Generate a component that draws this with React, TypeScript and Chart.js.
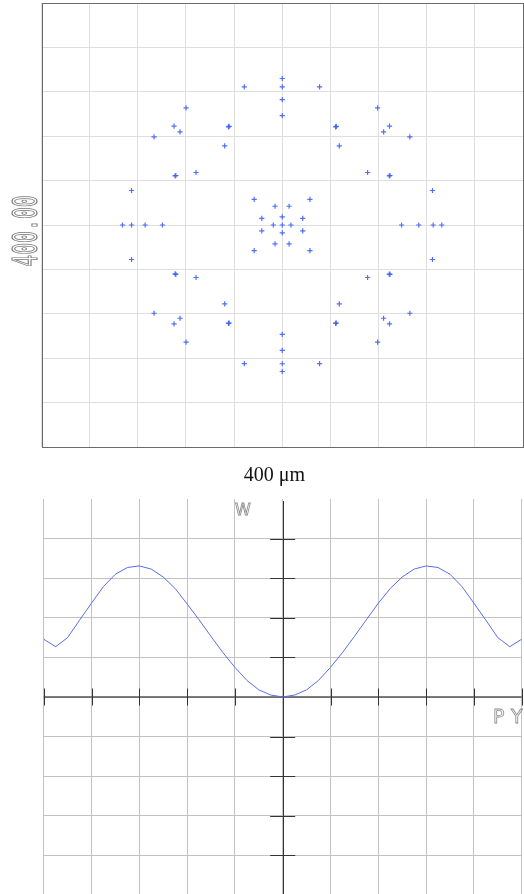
import React, { useEffect, useRef } from "react";
import { Chart, registerables } from "chart.js";

Chart.register(...registerables);

// ---------- Spot diagram data (μm) ----------
const spotX: number[] = [
  // central cluster
  0, -7.4, 7.2, 0, 0, -17, 17, -17, 17, -6, 5.7, -6, 5.7, -23.3, 23, -23.3, 23,
  // axis points (vertical)
  0, 0, 0, 0, 0, 0, 0, 0,
  // axis points (horizontal)
  -132.7, -125.2, -113.9, -99.5, 99.1, 113.4, 125.4, 132.5,
  // outer ring, upper half
  -31.5, 31, -79.9, 79.2, -89.9, 89.1, -84.9, 84.2, -44.7, 44.3, -106.5, 106, -47.8, 47.4, -89, 88.9, -71.6, 70.9, -125.2, 124.8,
  // outer ring, lower half
  -31.5, 31, -79.9, 79.2, -89.9, 89.1, -84.9, 84.2, -44.7, 44.3, -106.5, 106, -47.8, 47.4, -89, 88.9, -71.6, 70.9, -125.2, 124.8,
  // overlapping (bold) spots
  -44.1, 44.9, -88.4, 89.5, -88.4, 89.5, -44.1, 44.9,
];
const spotY: number[] = [
  0, 0, 0, 7.3, -7.1, 5.9, 5.9, -5.3, -5.3, 16.9, 16.9, -17, -17, 23, 23, -23, -23,
  132, 124.4, 113, 98.6, -98.6, -113, -125, -132,
  0, 0, 0, 0, 0, 0, 0, 0,
  124.4, 124.4, 105.5, 105.5, 89, 89, 83.9, 83.9, 88.4, 88.4, 79.4, 79.4, 71.3, 71.3, 44.2, 44.2, 47.3, 47.3, 31.1, 31.1,
  -124.8, -124.8, -105.6, -105.6, -89.1, -89.1, -84, -84, -88.7, -88.7, -79.5, -79.5, -71.1, -71.1, -44.1, -44.3, -47.3, -47.3, -31.1, -31.1,
  88.8, 88.8, 44.6, 44.6, -44.5, -44.5, -88.3, -88.3,
];
const spotMin = -200;
const spotMax = 200;
const spotStep = 40;
const spotYLabel = "400.00";
const spotXLabel = "400 \u03bcm";

// ---------- OPD fan data ----------
const pupilY: number[] = [
  -1, -0.95, -0.9, -0.85, -0.8, -0.75, -0.7, -0.65, -0.6, -0.55, -0.5, -0.45, -0.4, -0.35, -0.3, -0.25, -0.2, -0.15, -0.1, -0.05,
  0, 0.05, 0.1, 0.15, 0.2, 0.25, 0.3, 0.35, 0.4, 0.45, 0.5, 0.55, 0.6, 0.65, 0.7, 0.75, 0.8, 0.85, 0.9, 0.95, 1,
];
const waveW: number[] = [
  1.46, 1.27, 1.5, 1.94, 2.37, 2.79, 3.1, 3.27, 3.31, 3.23, 3.03, 2.74, 2.35, 1.95, 1.53, 1.12, 0.75, 0.42, 0.18, 0.05,
  0, 0.05, 0.18, 0.42, 0.75, 1.12, 1.53, 1.95, 2.37, 2.74, 3.03, 3.23, 3.31, 3.27, 3.1, 2.79, 2.37, 1.94, 1.5, 1.27, 1.46,
];
const pupilMin = -1;
const pupilMax = 1;
const pupilStep = 0.2;
const waveMin = -5;
const waveMax = 5;
const waveStep = 1;
const waveYLabel = "W";
const waveXLabel = "PY";

function SpotChart() {
  const ref = useRef<HTMLCanvasElement>(null);
  useEffect(() => {
    if (!ref.current) return;
    const labels = {
      id: "spotLabels",
      afterDraw(chart: any) {
        const { ctx, chartArea: a } = chart;
        ctx.save();
        ctx.strokeStyle = "#6a6a6a";
        ctx.lineWidth = 1;
        ctx.strokeRect(Math.round(a.left) + 0.5, Math.round(a.top) + 0.5, Math.round(a.right - a.left) - 1, Math.round(a.bottom - a.top));
        ctx.restore();

        ctx.save();
        ctx.translate(36.5, 231);
        ctx.rotate(-Math.PI / 2);
        ctx.scale(0.6, 1);
        ctx.font = '33px "DejaVu Sans Mono"';
        ctx.textAlign = "center";
        ctx.textBaseline = "alphabetic";
        ctx.strokeStyle = "#777";
        ctx.lineWidth = 1.1;
        ctx.strokeText(spotYLabel, 0, 0);
        ctx.restore();

        ctx.save();
        ctx.font = '20px "Liberation Serif"';
        ctx.fillStyle = "#111";
        ctx.textAlign = "center";
        ctx.textBaseline = "alphabetic";
        ctx.fillText(spotXLabel, 274.5, 481);
        ctx.restore();
      },
    };
    const chart = new Chart(ref.current, {
      type: "scatter",
      data: {
        datasets: [
          {
            data: spotX.map((x, i) => ({ x, y: spotY[i] })),
            pointStyle: "cross",
            pointRadius: 2.6,
            pointHoverRadius: 2.6,
            borderWidth: 1.2,
            borderColor: "rgba(60,95,255,0.9)",
            backgroundColor: "rgba(60,95,255,0.9)",
          },
        ],
      },
      options: {
        animation: false,
        responsive: false,
        devicePixelRatio: 1,
        events: [],
        layout: { autoPadding: false, padding: { left: 41.5, right: 1, top: 3, bottom: 43 } },
        plugins: { legend: { display: false }, tooltip: { enabled: false } },
        scales: {
          x: {
            type: "linear",
            min: spotMin,
            max: spotMax,
            ticks: { display: false, stepSize: spotStep },
            grid: { color: "#dedede", lineWidth: 1, drawTicks: false },
            border: { display: false },
          },
          y: {
            type: "linear",
            min: spotMin,
            max: spotMax,
            ticks: { display: false, stepSize: spotStep },
            grid: { color: "#dedede", lineWidth: 1, drawTicks: false },
            border: { display: false },
          },
        },
      },
      plugins: [labels],
    });
    return () => chart.destroy();
  }, []);
  return <canvas ref={ref} width={524} height={490} style={{ position: "absolute", left: 0, top: 0, width: 524, height: 490 }} />;
}

function WaveChart() {
  const ref = useRef<HTMLCanvasElement>(null);
  useEffect(() => {
    if (!ref.current) return;
    const axes = {
      id: "waveAxes",
      beforeDatasetsDraw(chart: any) {
        const { ctx, chartArea: a, scales } = chart;
        const xs = scales.x;
        const ys = scales.y;
        const x0 = xs.getPixelForValue(0);
        const y0 = ys.getPixelForValue(0);
        ctx.save();
        // horizontal axis
        ctx.strokeStyle = "#555";
        ctx.lineWidth = 1.5;
        ctx.beginPath();
        ctx.moveTo(a.left, y0);
        ctx.lineTo(a.right, y0);
        ctx.stroke();
        ctx.lineWidth = 1;
        ctx.strokeStyle = "#333";
        for (let v = pupilMin; v <= pupilMax + 1e-9; v += pupilStep) {
          const px = Math.round(xs.getPixelForValue(v)) + 0.5;
          ctx.beginPath();
          ctx.moveTo(px, y0 - 8.5);
          ctx.lineTo(px, y0 + 8.5);
          ctx.stroke();
        }
        // vertical axis
        const px0 = Math.round(x0) + 0.5;
        ctx.beginPath();
        ctx.moveTo(px0, a.top + 2);
        ctx.lineTo(px0, a.bottom);
        ctx.stroke();
        for (let v = waveMin + waveStep; v < waveMax - 1e-9; v += waveStep) {
          if (Math.abs(v) < 1e-9) continue;
          const py = Math.round(ys.getPixelForValue(v)) + 0.5;
          ctx.beginPath();
          ctx.moveTo(x0 - 12.5, py);
          ctx.lineTo(x0 + 12.5, py);
          ctx.stroke();
        }
        ctx.restore();
      },
      afterDraw(chart: any) {
        const { ctx } = chart;
        ctx.save();
        ctx.strokeStyle = "#888";
        ctx.lineWidth = 0.8;
        ctx.textAlign = "left";
        ctx.textBaseline = "alphabetic";
        ctx.font = '16px "DejaVu Sans"';
        ctx.strokeText(waveYLabel, 235, 25);
        ctx.font = '19px "DejaVu Sans"';
        (ctx as any).letterSpacing = "7px";
        ctx.strokeText(waveXLabel, 493, 233);
        ctx.restore();
      },
    };
    const gridColor = (c: any) => (c.tick && c.tick.value === waveMax ? "rgba(0,0,0,0)" : "#c2c2c2");
    const chart = new Chart(ref.current, {
      type: "scatter",
      data: {
        datasets: [
          {
            data: pupilY.map((x, i) => ({ x, y: waveW[i] })),
            showLine: true,
            pointRadius: 0,
            borderWidth: 1,
            borderColor: "#5a6ee8",
            tension: 0,
          },
        ],
      },
      options: {
        animation: false,
        responsive: false,
        devicePixelRatio: 1,
        events: [],
        layout: { autoPadding: false, padding: { left: 43.7, right: 2.3, top: 9, bottom: 5 } },
        plugins: { legend: { display: false }, tooltip: { enabled: false } },
        scales: {
          x: {
            type: "linear",
            min: pupilMin,
            max: pupilMax,
            ticks: { display: false, stepSize: pupilStep },
            grid: { color: "#c2c2c2", lineWidth: 1, drawTicks: false },
            border: { display: false },
          },
          y: {
            type: "linear",
            min: waveMin,
            max: waveMax,
            ticks: { display: false, stepSize: waveStep },
            grid: { color: gridColor, lineWidth: 1, drawTicks: false },
            border: { display: false },
          },
        },
      },
      plugins: [axes],
    });
    return () => chart.destroy();
  }, []);
  return <canvas ref={ref} width={524} height={410} style={{ position: "absolute", left: 0, top: 490, width: 524, height: 410 }} />;
}

export default function App() {
  return (
    <div style={{ position: "absolute", left: 0, top: 0, width: 524, height: 894, overflow: "hidden", background: "#fff" }}>
      <SpotChart />
      <WaveChart />
    </div>
  );
}
